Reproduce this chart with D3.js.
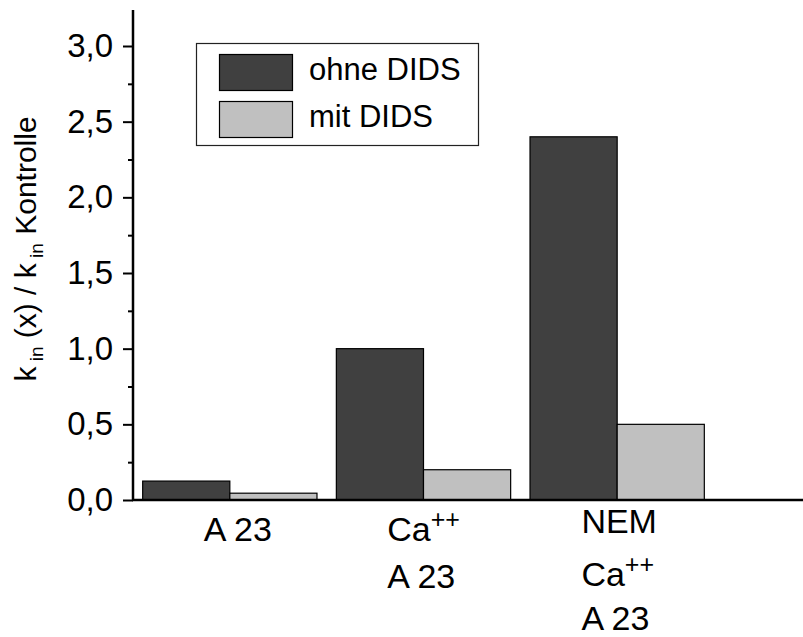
<!DOCTYPE html>
<html>
<head>
<meta charset="utf-8">
<script src="https://cdn.jsdelivr.net/npm/d3@7"></script>
<style>
  html, body { margin: 0; padding: 0; background: #fff; }
  svg { display: block; font-family: "Liberation Sans", Arial, Helvetica, sans-serif; }
</style>
</head>
<body>
<svg id="chart" width="803" height="637"></svg>
<script>
// ---- data ----
const categories = ["A 23", "Ca++ A 23", "NEM Ca++ A 23"];
const categoryLines = [
  [["A 23", ""]],
  [["Ca", "++"], ["A 23", ""]],
  [["NEM", ""], ["Ca", "++"], ["A 23", ""]]
];
const seriesNames = ["ohne DIDS", "mit DIDS"];
const ohneDIDS = [0.125, 1.0, 2.4];
const mitDIDS = [0.045, 0.2, 0.5];
const seriesColors = ["#404040", "#c0c0c0"];
const yTicks = [0, 0.5, 1.0, 1.5, 2.0, 2.5, 3.0];
const yMinorTicks = [0.25, 0.75, 1.25, 1.75, 2.25, 2.75];

const seriesValues = [ohneDIDS, mitDIDS];

// ---- layout ----
const W = 803, H = 637;
const axisX = 133, baseY = 500, topY = 10;
const labelBaselines = [[541], [541, 588], [533, 586, 630]];
const labelDx = [8, 0, 2];

const svg = d3.select("#chart");

const y = d3.scaleLinear().domain([0, 3]).range([baseY, 46]);
const x0 = d3.scaleBand().domain(categories).range([axisX, 714]).paddingInner(0.1).paddingOuter(0.05);
const x1 = d3.scaleBand().domain(seriesNames).range([0, x0.bandwidth()]).padding(0);

// bars
const groups = svg.append("g").selectAll("g")
  .data(categories)
  .join("g")
  .attr("transform", d => `translate(${x0(d)},0)`);

groups.selectAll("rect")
  .data((d, i) => seriesNames.map((s, j) => ({ s, j, v: seriesValues[j][i] })))
  .join("rect")
  .attr("x", d => x1(d.s))
  .attr("y", d => y(d.v))
  .attr("width", x1.bandwidth())
  .attr("height", d => y(0) - y(d.v))
  .attr("fill", d => seriesColors[d.j])
  .attr("stroke", "#000")
  .attr("stroke-width", 1.2);

// y axis
const yAxis = d3.axisLeft(y).tickValues(yTicks).tickSize(10).tickPadding(10)
  .tickFormat(d => d3.format(".1f")(d).replace(".", ","));
const gy = svg.append("g").attr("transform", `translate(${axisX},0)`).call(yAxis);
gy.select(".domain").remove();
gy.selectAll(".tick line").attr("stroke", "#000").attr("stroke-width", 2);
gy.selectAll(".tick text").attr("font-size", 33).attr("fill", "#000")
  .attr("font-family", "Liberation Sans, Arial, sans-serif");

const gyMinor = svg.append("g").attr("transform", `translate(${axisX},0)`)
  .call(d3.axisLeft(y).tickValues(yMinorTicks).tickSize(5).tickFormat(""));
gyMinor.select(".domain").remove();
gyMinor.selectAll(".tick line").attr("stroke", "#000").attr("stroke-width", 2);

// axis lines
svg.append("line").attr("x1", axisX).attr("x2", axisX).attr("y1", topY).attr("y2", baseY + 1)
  .attr("stroke", "#000").attr("stroke-width", 2.5);
svg.append("line").attr("x1", axisX - 1).attr("x2", W).attr("y1", baseY).attr("y2", baseY)
  .attr("stroke", "#000").attr("stroke-width", 2.5);

// x labels (multi-line, left aligned block centred on group)
categories.forEach((c, i) => {
  const g = svg.append("g");
  const lines = categoryLines[i];
  const texts = lines.map((ln, k) => {
    const t = g.append("text")
      .attr("y", labelBaselines[i][k])
      .attr("font-size", 34)
      .attr("fill", "#000");
    t.append("tspan").text(ln[0]);
    if (ln[1]) t.append("tspan").attr("font-size", 25).attr("dy", -13).text(ln[1]);
    return t;
  });
  const maxW = d3.max(texts, t => t.node().getComputedTextLength());
  const cx = x0(c) + x0.bandwidth() / 2 + labelDx[i];
  texts.forEach(t => t.attr("x", cx - maxW / 2));
});

// legend
const leg = svg.append("g");
leg.append("rect").attr("x", 196.5).attr("y", 43.5).attr("width", 282).attr("height", 102)
  .attr("fill", "#fff").attr("stroke", "#222").attr("stroke-width", 1.2);
seriesNames.forEach((s, j) => {
  leg.append("rect").attr("x", 219.5).attr("y", 54.5 + j * 47).attr("width", 73).attr("height", 36)
    .attr("fill", seriesColors[j]).attr("stroke", "#000").attr("stroke-width", 1.2);
  leg.append("text").attr("x", 309).attr("y", 80 + j * 47).attr("font-size", 31)
    .attr("fill", "#000").text(s);
});

// y label
const yl = svg.append("text")
  .attr("transform", `translate(36,249) rotate(-90)`)
  .attr("text-anchor", "middle")
  .attr("font-size", 30)
  .attr("fill", "#000");
yl.append("tspan").text("k");
yl.append("tspan").attr("font-size", 19).attr("dy", 7).text(" in");
yl.append("tspan").attr("dy", -7).text(" (x) / k");
yl.append("tspan").attr("font-size", 19).attr("dy", 7).text(" in");
yl.append("tspan").attr("dy", -7).text(" Kontrolle");
</script>
</body>
</html>
